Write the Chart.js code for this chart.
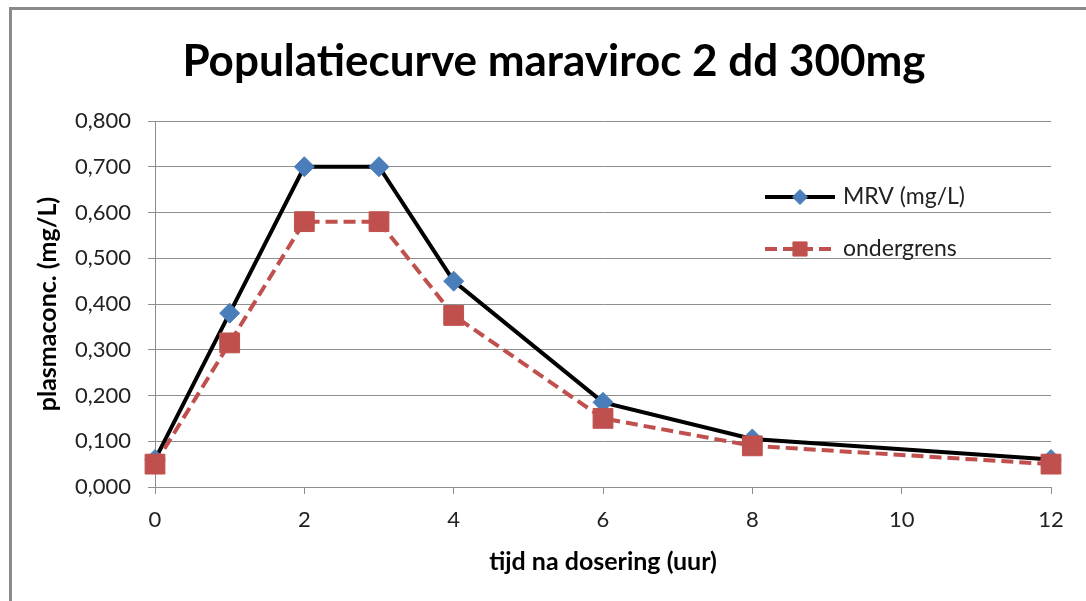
<!DOCTYPE html>
<html>
<head>
<meta charset="utf-8">
<script src="https://cdn.jsdelivr.net/npm/chart.js@4.4.1/dist/chart.umd.min.js"></script>
<style>
  html, body { margin: 0; padding: 0; background: #fff; overflow: hidden; }
  #wrap { width: 1086px; height: 601px; position: relative; }
</style>
</head>
<body>
<div id="wrap"><canvas id="c" width="1086" height="601"></canvas></div>
<script>
const hours = [0, 1, 2, 3, 4, 6, 8, 12];
const mrv = [0.06, 0.38, 0.70, 0.70, 0.45, 0.185, 0.105, 0.06];
const ondergrens = [0.05, 0.315, 0.58, 0.58, 0.375, 0.15, 0.09, 0.05];
const xTickValues = [0, 2, 4, 6, 8, 10, 12];
const yTickValues = [0, 0.1, 0.2, 0.3, 0.4, 0.5, 0.6, 0.7, 0.8];
const seriesNames = ['MRV (mg/L)', 'ondergrens'];
const titleText = 'Populatiecurve maraviroc 2 dd 300mg';
const xTitle = 'tijd na dosering (uur)';
const yTitle = 'plasmaconc. (mg/L)';

const FONT = 'Lato, "Open Sans", sans-serif';
const gridColor = '#8e8e8e';

const frame = {
  id: 'frame',
  beforeDraw(chart) {
    const ctx = chart.ctx;
    ctx.save();
    ctx.fillStyle = '#fff';
    ctx.fillRect(0, 0, chart.width, chart.height);
    ctx.fillStyle = '#8a8a8a';
    ctx.fillRect(9, 7, chart.width, 3);
    ctx.fillRect(9, 7, 3, chart.height);
    ctx.fillStyle = '#000';
    ctx.font = 'bold 44px ' + FONT;
    ctx.textAlign = 'center';
    ctx.textBaseline = 'middle';
    ctx.fillText(titleText, 554, 62);
    ctx.restore();
  }
};

const legendBox = {
  id: 'legendBox',
  afterDatasetsDraw(chart) {
    const ctx = chart.ctx;
    const rows = [197, 249];
    const markerRadius = [7.5, 10];
    chart.data.datasets.forEach((ds, i) => {
      const y = rows[i];
      ctx.save();
      ctx.strokeStyle = ds.borderColor;
      ctx.lineWidth = ds.borderWidth;
      ctx.setLineDash(ds.borderDash || []);
      ctx.beginPath();
      ctx.moveTo(765, y);
      ctx.lineTo(835, y);
      ctx.stroke();
      ctx.setLineDash([]);
      ctx.fillStyle = ds.pointBackgroundColor;
      ctx.strokeStyle = ds.pointBorderColor;
      ctx.lineWidth = 1;
      Chart.helpers.drawPoint(ctx, { pointStyle: ds.pointStyle, radius: markerRadius[i], borderWidth: 1 }, 800, y);
      ctx.fillStyle = '#222';
      ctx.font = '23px ' + FONT;
      ctx.textBaseline = 'middle';
      ctx.textAlign = 'left';
      ctx.fillText(ds.label, 843, y);
      ctx.restore();
    });
  }
};

new Chart(document.getElementById('c'), {
  type: 'line',
  data: {
    datasets: [
      {
        label: seriesNames[0],
        data: hours.map((h, i) => ({ x: h, y: mrv[i] })),
        borderColor: '#000',
        borderWidth: 4,
        pointStyle: 'rectRot',
        pointRadius: 10,
        pointBackgroundColor: '#4a7ebb',
        pointBorderColor: '#4a7ebb',
        pointBorderWidth: 1,
        tension: 0,
        clip: false,
        order: 2
      },
      {
        label: seriesNames[1],
        data: hours.map((h, i) => ({ x: h, y: ondergrens[i] })),
        borderColor: '#c0504d',
        borderWidth: 4,
        borderDash: [12, 6],
        pointStyle: 'rect',
        pointRadius: 14,
        pointBackgroundColor: '#c0504d',
        pointBorderColor: '#c0504d',
        pointBorderWidth: 1,
        tension: 0,
        clip: false,
        order: 1
      }
    ]
  },
  options: {
    responsive: false,
    animation: false,
    devicePixelRatio: 1,
    layout: { padding: { left: 0, right: 35, top: 121, bottom: 0 } },
    plugins: {
      legend: { display: false },
      tooltip: { enabled: false },
      title: { display: false }
    },
    scales: {
      x: {
        type: 'linear',
        min: 0,
        max: 12,
        afterBuildTicks: s => { s.ticks = xTickValues.map(v => ({ value: v })); },
        afterFit: s => { s.height = 114; },
        grid: { drawOnChartArea: false, drawTicks: true, tickLength: 7, color: gridColor },
        border: { color: gridColor, width: 1 },
        ticks: { color: '#222', font: { family: FONT, size: 22 }, padding: 13, maxRotation: 0 },
        title: { display: true, text: xTitle, color: '#000', font: { family: FONT, size: 25, weight: 'bold' }, padding: { top: 0, bottom: 24 } }
      },
      y: {
        type: 'linear',
        min: 0,
        max: 0.8,
        afterBuildTicks: s => { s.ticks = yTickValues.map(v => ({ value: v })); },
        afterFit: s => { s.width = 155; },
        grid: { drawOnChartArea: true, drawTicks: true, tickLength: 7, color: gridColor },
        border: { color: gridColor, width: 1 },
        ticks: { color: '#222', font: { family: FONT, size: 22 }, padding: 17,
          callback: v => v.toFixed(3).replace('.', ',') },
        title: { display: true, text: yTitle, color: '#000', font: { family: FONT, size: 25, weight: 'bold' }, padding: { top: 33, bottom: 0 } }
      }
    }
  },
  plugins: [frame, legendBox]
});
</script>
</body>
</html>
